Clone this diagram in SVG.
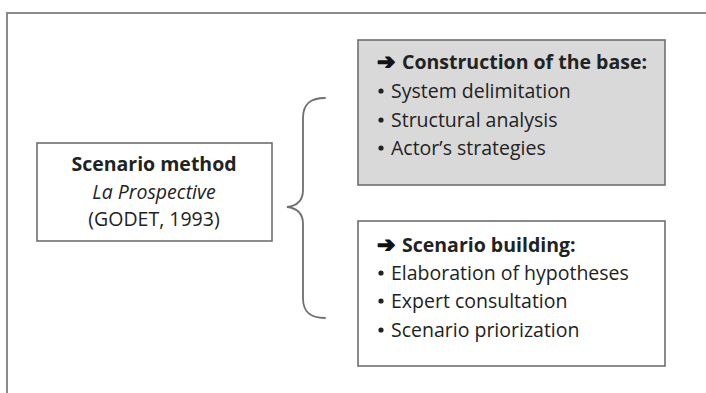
<svg xmlns="http://www.w3.org/2000/svg" width="706" height="393" viewBox="0 0 706 393">
  <style>
    .frame { fill: none; stroke: #8a8a8a; stroke-width: 2; }
    .box { stroke: #6e6e6e; stroke-width: 1.6; }
    .txt { font-family: "Open Sans", "Liberation Sans", sans-serif; font-size: 19.5px; fill: #222222; }
    .bold { font-weight: bold; }
    .arrow { font-family: "DejaVu Sans", sans-serif; font-weight: bold; font-size: 22px; fill: #111111; stroke: #111111; stroke-width: 1.2; stroke-linejoin: round; }
    .dot { fill: #222222; }
    .brace { fill: none; stroke: #6e6e6e; stroke-width: 1.8; stroke-linecap: round; }
  </style>
  <defs>
    <circle id="bullet" class="dot" r="2.6"/>
  </defs>
  <rect width="706" height="393" fill="#ffffff"/>

  <!-- outer frame (left and top edges) -->
  <path class="frame" d="M7,393 V13 H706"/>

  <!-- source node -->
  <g id="scenario-method">
    <rect class="box" x="37" y="143" width="235" height="98" fill="#ffffff"/>
    <text class="txt bold" x="154" y="171" text-anchor="middle" font-size="18.5">Scenario method</text>
    <text class="txt" x="154" y="199" text-anchor="middle" font-size="18.5" font-style="italic">La Prospective</text>
    <text class="txt" x="154" y="226" text-anchor="middle" font-size="18.5">(GODET, 1993)</text>
  </g>

  <!-- curly brace joining the method to its two phases -->
  <g id="connectors">
    <path class="brace" d="M325,98 C310,98 303,104 303,118 V190 C303,201 296,206 287,207 C296,208 303,213 303,224 V298 C303,312 310,318 325,318"/>
  </g>

  <g id="construction-of-the-base">
    <rect class="box" x="358" y="40" width="307" height="145" fill="#d9d9d9"/>
    <text class="arrow" x="377" y="69">➔</text>
    <text class="txt bold" x="402" y="69">Construction of the base:</text>
    <use href="#bullet" x="381" y="91"/>
    <text class="txt" x="391" y="98">System delimitation</text>
    <use href="#bullet" x="381" y="120"/>
    <text class="txt" x="391" y="127">Structural analysis</text>
    <use href="#bullet" x="381" y="148"/>
    <text class="txt" x="391" y="155">Actor’s strategies</text>
  </g>

  <g id="scenario-building">
    <rect class="box" x="358" y="221" width="307" height="145" fill="#ffffff"/>
    <text class="arrow" x="377" y="252">➔</text>
    <text class="txt bold" x="402" y="252">Scenario building:</text>
    <use href="#bullet" x="381" y="273"/>
    <text class="txt" x="391" y="280">Elaboration of hypotheses</text>
    <use href="#bullet" x="381" y="301"/>
    <text class="txt" x="391" y="308">Expert consultation</text>
    <use href="#bullet" x="381" y="330"/>
    <text class="txt" x="391" y="337">Scenario priorization</text>
  </g>
</svg>
